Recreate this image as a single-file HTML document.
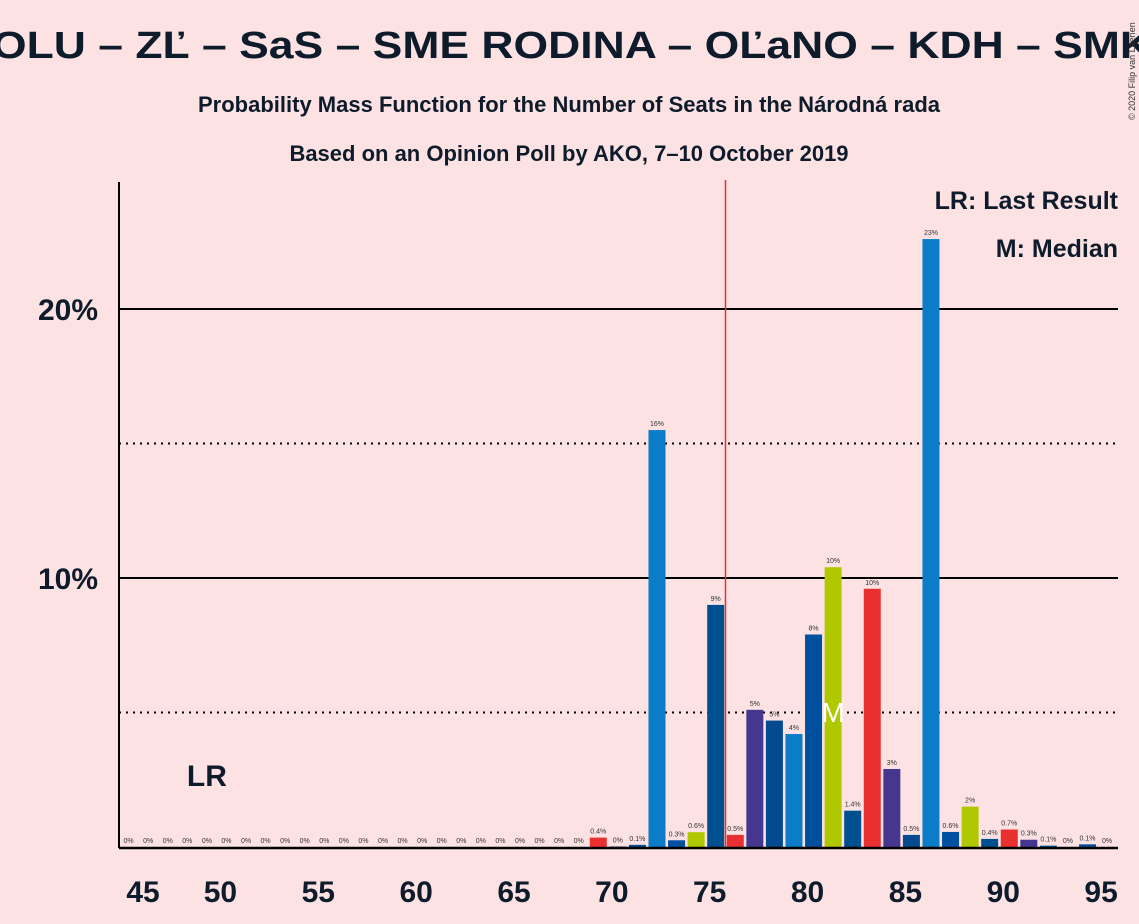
<!DOCTYPE html>
<html><head><meta charset="utf-8"><style>
body{margin:0;background:#fde2e4;}
svg{display:block;font-family:"Liberation Sans",sans-serif;}
</style></head><body>
<svg id="chart" width="1139" height="924" viewBox="0 0 1139 924">
<rect width="1139" height="924" fill="#fde2e4"/>
<text x="-8" y="58" font-size="38" font-weight="bold" fill="#0d1b2a" textLength="1160" lengthAdjust="spacingAndGlyphs">OLU – ZĽ – SaS – SME RODINA – OĽaNO – KDH – SMK</text>
<text x="569" y="112" font-size="22" font-weight="bold" fill="#0d1b2a" text-anchor="middle">Probability Mass Function for the Number of Seats in the Národná rada</text>
<text x="569" y="161" font-size="22" font-weight="bold" fill="#0d1b2a" text-anchor="middle">Based on an Opinion Poll by AKO, 7–10 October 2019</text>
<text transform="translate(1135,120) rotate(-90)" font-size="9" fill="#333">© 2020 Filip van Laenen</text>
<g id="grid"></g>
<g id="bars"></g>
<g id="labels"></g>
<g id="axes"></g>
<text x="1118" y="209" font-size="25" font-weight="bold" fill="#0d1b2a" text-anchor="end">LR: Last Result</text>
<text x="1118" y="257" font-size="25" font-weight="bold" fill="#0d1b2a" text-anchor="end">M: Median</text>
</svg>
<script>
const seats=[45,46,47,48,49,50,51,52,53,54,55,56,57,58,59,60,61,62,63,64,65,66,67,68,69,70,71,72,73,74,75,76,77,78,79,80,81,82,83,84,85,86,87,88,89,90,91,92,93,94,95];
const probs=[0,0,0,0,0,0,0,0,0,0,0,0,0,0,0,0,0,0,0,0,0,0,0,0,0.35,0.02,0.08,15.5,0.25,0.55,9.0,0.45,5.1,4.7,4.2,7.9,10.4,1.35,9.6,2.9,0.45,22.6,0.56,1.5,0.3,0.65,0.27,0.05,0,0.1,0];
const valueLabels=["0%","0%","0%","0%","0%","0%","0%","0%","0%","0%","0%","0%","0%","0%","0%","0%","0%","0%","0%","0%","0%","0%","0%","0%","0.4%","0%","0.1%","16%","0.3%","0.6%","9%","0.5%","5%","5%","4%","8%","10%","1.4%","10%","3%","0.5%","23%","0.6%","2%","0.4%","0.7%","0.3%","0.1%","0%","0.1%","0%"];
const xTicks=[45,50,55,60,65,70,75,80,85,90,95];
const yMajor=[10,20];
const yMinor=[5,15];
const lastResult=49, median=81, majority=75.5;
const palette=["#0050a0","#b0c800","#005090","#e83030","#45378f","#044a8f","#0a7cc8"];
const NS="http://www.w3.org/2000/svg";
const X=s=>128.6+(s-45)*19.57;
const XL=s=>Math.max(143,X(s)-6);
const Y=p=>847-p*26.9;
function mk(tag,attrs,parent,text){const e=document.createElementNS(NS,tag);for(const k in attrs)e.setAttribute(k,attrs[k]);if(text!==undefined)e.textContent=text;document.getElementById(parent).appendChild(e);return e;}
yMinor.forEach(v=>{const l=mk("line",{x1:119,x2:1118,y1:Y(v),y2:Y(v),stroke:"#000","stroke-width":2,"stroke-dasharray":"2,5"},"grid");

});
yMajor.forEach(v=>{const l=mk("line",{x1:119,x2:1118,y1:Y(v),y2:Y(v),stroke:"#000","stroke-width":2},"grid");


const t=mk("text",{x:98,y:Y(v)+11,"font-size":30,"font-weight":"bold",fill:"#0d1b2a","text-anchor":"end"},"grid",v+"%");

});
seats.forEach((s,i)=>{const p=probs[i];
const r=mk("rect",{x:X(s)-8.5,y:Y(p),width:17,height:Math.max(0,847-Y(p)),fill:palette[(s-45)%7]},"bars");


const t=mk("text",{x:X(s),y:Y(p)-4,"font-size":7,fill:"#333","text-anchor":"middle"},"labels",valueLabels[i]);

});
const mj=mk("line",{x1:X(majority),x2:X(majority),y1:180,y2:847,stroke:"#e83030","stroke-width":1.5},"axes");


const m=mk("text",{x:X(median),y:722,"font-size":28,fill:"#fff","text-anchor":"middle"},"labels","M");


const lr=mk("text",{x:X(lastResult),y:786,"font-size":30,"font-weight":"bold",fill:"#0d1b2a","text-anchor":"middle"},"labels","LR");


const ya=mk("line",{x1:119,x2:119,y1:182,y2:848,stroke:"#000","stroke-width":2},"axes");


const xa=mk("line",{x1:119,x2:1118,y1:848,y2:848,stroke:"#000","stroke-width":2.5},"axes");


xTicks.forEach(v=>{const t=mk("text",{x:XL(v),y:902,"font-size":30,"font-weight":"bold",fill:"#0d1b2a","text-anchor":"middle"},"axes",v);

});
</script>
</body></html>
